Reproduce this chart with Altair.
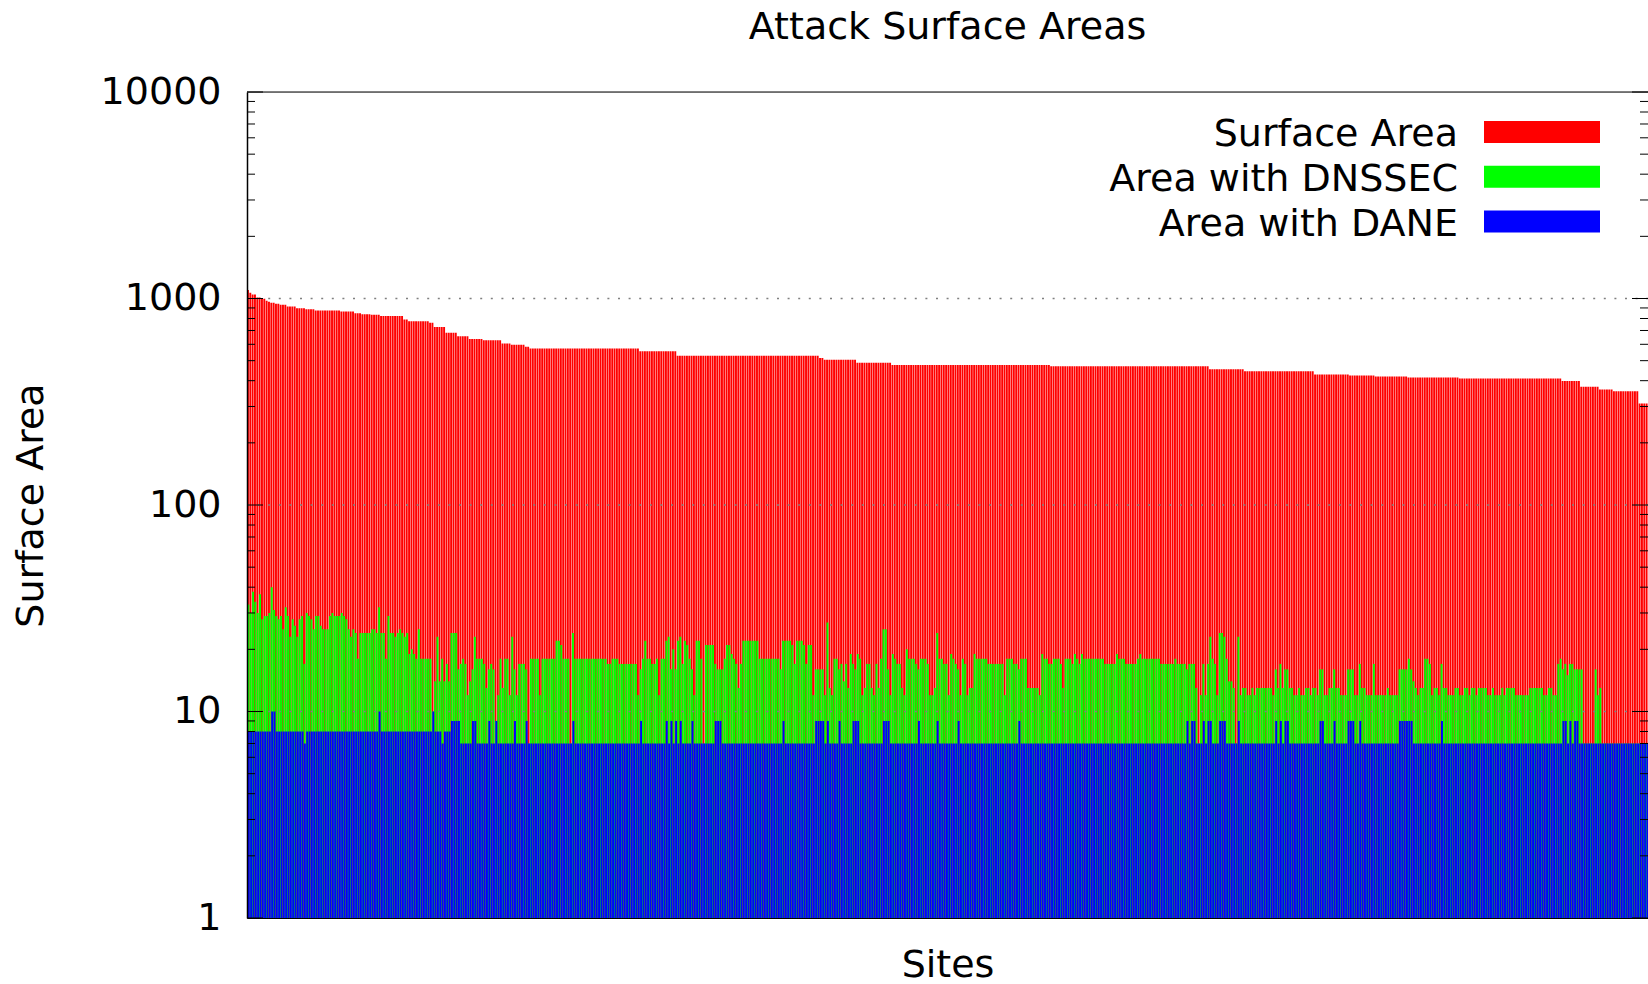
import altair as alt
import pandas as pd

# ---- data -------------------------------------------------------------
# Total surface area per site, sorted descending, as (value, run length) steps
SURFACE_RUNS = [
    (1099, 1), (1067, 1), (1047, 2), (1012, 2), (998, 2), (976, 1), (965, 1),
    (954, 2), (944, 2), (933, 3), (915, 4), (898, 4), (888, 4), (875, 11),
    (866, 6), (849, 3), (840, 4), (834, 4), (822, 10), (792, 2), (775, 9),
    (764, 2), (727, 5), (683, 5), (657, 5), (636, 6), (627, 8), (606, 4),
    (597, 6), (584, 2), (573, 47), (555, 16), (528, 61), (515, 2), (505, 14),
    (488, 15), (476, 68), (470, 68), (454, 15), (444, 30), (428, 15),
    (424, 11), (419, 14), (414, 22), (410, 44), (398, 8), (374, 8), (363, 6),
    (356, 11), (310, 4),
]

# Area still reachable with DNSSEC, one value per site
DNSSEC = [
    33, 30, 38, 34, 30, 37, 28, 29, 29, 30, 40, 31, 29, 28, 29, 25, 32, 29, 23, 28,
    26, 23, 28, 29, 17, 30, 29, 28, 25, 29, 29, 26, 25, 25, 25, 29, 30, 29, 29, 29,
    30, 29, 28, 25, 23, 25, 24, 18, 24, 24, 24, 24, 24, 25, 25, 24, 32, 24, 24, 18,
    29, 24, 24, 23, 24, 25, 24, 23, 24, 19, 20, 19, 18, 25, 18,
    18, 18, 18, 18, 10, 14, 23, 14, 18, 14, 17, 14, 24, 24, 24, 16, 17, 18, 17, 12,
    14, 16, 23, 18, 18, 18, 17, 13, 16, 17, 16, 9, 12, 18, 13, 18, 18, 12, 23, 16,
    12, 17, 17, 17, 16, 7, 18, 18, 18, 18, 12, 18, 18, 18, 18, 18, 18, 22, 22, 21,
    18, 18, 18, 7, 24, 18, 18, 18, 18, 18, 18, 18, 18, 18,
    18, 18, 18, 18, 18, 17, 17, 18, 18, 18, 17, 17, 17, 17, 17, 17, 17, 17, 12, 16,
    18, 22, 18, 18, 17, 17, 18, 12, 18, 18, 22, 23, 16, 20, 16, 22, 23, 17, 22, 21,
    18, 16, 12, 22, 22, 18, 7, 21, 21, 21, 21, 17, 16, 16, 16, 18, 21, 21, 19, 18,
    17, 13, 17, 22, 22, 22, 22, 22, 22, 22, 18, 18, 18, 18, 18,
    18, 18, 18, 18, 16, 22, 22, 22, 22, 21, 17, 22, 22, 22, 21, 17, 21, 21, 12, 16,
    16, 16, 16, 12, 27, 13, 12, 18, 18, 16, 17, 14, 17, 13, 19, 17, 16, 19, 18, 12,
    13, 17, 17, 13, 12, 17, 13, 18, 25, 25, 16, 12, 19, 18, 17, 17, 13, 12, 20, 18,
    18, 18, 17, 16, 18, 18, 18, 17, 12, 12, 13, 24, 18, 18, 17,
    17, 12, 19, 18, 17, 16, 12, 18, 17, 12, 13, 13, 19, 18, 18, 18, 18, 18, 17, 17,
    17, 17, 17, 17, 17, 12, 18, 18, 18, 17, 17, 16, 18, 18, 18, 13, 13, 13, 13, 13,
    12, 19, 18, 18, 17, 17, 18, 18, 18, 17, 13, 18, 18, 18, 17, 19, 18, 17, 19, 18,
    18, 18, 18, 18, 18, 18, 18, 18, 17, 17, 17, 17, 17, 19, 18,
    18, 18, 17, 17, 17, 17, 17, 18, 19, 18, 18, 18, 18, 18, 18, 18, 18, 17, 17, 17,
    17, 17, 17, 18, 17, 17, 17, 17, 16, 17, 17, 17, 13, 7, 12, 17, 12, 17, 23, 18,
    17, 12, 24, 24, 23, 18, 14, 14, 13, 7, 23, 12, 13, 13, 12, 12, 13, 12, 13, 13,
    13, 13, 13, 13, 13, 12, 16, 13, 17, 13, 16, 16, 13, 13, 12,
    12, 13, 12, 12, 13, 13, 12, 13, 13, 12, 16, 16, 12, 12, 13, 13, 16, 13, 13, 12,
    12, 12, 16, 16, 16, 12, 12, 17, 13, 13, 12, 12, 12, 17, 12, 12, 12, 12, 12, 13,
    12, 12, 12, 12, 16, 16, 16, 16, 18, 16, 14, 13, 12, 13, 13, 18, 18, 17, 12, 13,
    13, 12, 17, 13, 13, 12, 12, 12, 13, 13, 12, 12, 13, 13, 12,
    13, 13, 12, 13, 13, 13, 13, 12, 12, 13, 12, 12, 12, 13, 12, 13, 13, 13, 13, 12,
    12, 12, 12, 12, 12, 13, 13, 13, 13, 13, 13, 12, 12, 13, 13, 12, 12,
    17, 18, 16, 17, 15, 17, 17, 16, 16, 16, 16, 7, 7, 7, 7, 7, 16, 12, 13,
    7, 7, 7, 7, 7, 7, 7, 7, 7, 7, 7, 7, 7, 7, 7, 7, 7, 7, 7, 7,
]

# Area still reachable with DANE, as (value, run length) steps
DANE_RUNS = [
    (8, 10), (10, 2), (8, 12), (7, 1), (8, 31), (10, 1), (8, 22), (10, 1),
    (8, 3), (7, 1), (8, 3), (9, 4), (7, 5), (9, 2), (7, 5), (9, 1), (7, 2),
    (9, 1), (7, 7), (9, 1), (7, 4), (9, 1), (7, 19), (9, 1), (7, 28),
    (9, 1), (7, 10), (9, 1), (7, 1), (9, 1), (7, 1), (9, 1), (7, 1), (9, 1),
    (7, 4), (9, 1), (7, 9), (9, 3), (7, 26), (9, 1), (7, 13), (9, 4), (7, 1),
    (9, 1), (7, 4), (9, 1), (7, 5), (9, 3), (7, 10), (9, 3), (7, 12), (9, 1),
    (7, 7), (9, 1), (7, 8), (9, 1), (7, 25), (9, 1), (7, 71), (9, 1), (7, 1),
    (9, 2), (7, 3), (9, 1), (7, 1), (9, 2), (7, 3), (9, 3), (7, 5), (9, 1),
    (7, 15), (9, 1), (7, 1), (9, 1), (7, 1), (9, 2), (7, 13), (9, 2), (7, 4),
    (9, 1), (7, 5), (9, 3), (7, 2), (9, 1), (7, 16), (9, 6), (7, 12), (9, 1),
    (7, 51), (9, 2), (7, 1), (9, 1), (7, 1), (9, 2), (7, 30),
]

TITLE = "Attack Surface Areas"
SERIES_LABELS = ["Surface Area", "Area with DNSSEC", "Area with DANE"]
SERIES_COLORS = ["#ff0000", "#00ff00", "#0000ff"]
MAJOR_TICKS = [1, 10, 100, 1000, 10000]
MINOR_TICKS = [m * 10 ** k for k in range(4) for m in range(2, 10)]
GRID_LINES = [10, 100, 1000]


def expand(runs):
    values = []
    for value, count in runs:
        values.extend([value] * count)
    return values


surface = expand(SURFACE_RUNS)
dane = expand(DANE_RUNS)
n_sites = len(surface)

sites = pd.DataFrame({
    "site": list(range(n_sites)),
    "surface": surface,
    "dnssec": DNSSEC[:n_sites],
    "dane": dane[:n_sites],
})

# ---- layout -----------------------------------------------------------
W, H = 1401, 826
FONT = "DejaVu Sans"
FS = 38
GAP = 0.18  # fraction of a slot left open; each series is shifted by one gap

xs = alt.Scale(domain=[0, n_sites], nice=False, zero=False)
ys = alt.Scale(type="log", domain=[1, 10000], nice=False)

X_AXIS = alt.Axis(
    labels=False, ticks=False, grid=False, domain=True,
    domainColor="black", domainWidth=1, zindex=2,
    title="Sites", titleFont=FONT, titleFontSize=FS, titleFontWeight="normal",
    titleColor="black", titleBaseline="alphabetic", titleY=58,
)
Y_AXIS = alt.Axis(
    values=MAJOR_TICKS, format="d", ticks=False, grid=False, domain=True,
    domainColor="black", domainWidth=1.5, zindex=2,
    labelFont=FONT, labelFontSize=FS, labelColor="black", labelPadding=26,
    labelOverlap=False, labelBaseline="middle",
    title="Surface Area", titleFont=FONT, titleFontSize=FS,
    titleFontWeight="normal", titleColor="black", titleAngle=270,
    titleAlign="center", titleBaseline="alphabetic", titleX=-205, titleY=H / 2,
)

base = alt.Chart(sites).transform_calculate(
    floor="1",
    r1="datum.site",
    r2=f"datum.site + {1 - GAP}",
    g1=f"datum.site + {GAP}",
    g2="datum.site + 1",
    b1=f"datum.site + {2 * GAP}",
    b2=f"datum.site + {1 + GAP}",
)


def bars(field, start, end, color):
    return base.mark_rect(color=color).encode(
        x=alt.X(f"{start}:Q", scale=xs, axis=X_AXIS),
        x2=f"{end}:Q",
        y=alt.Y(f"{field}:Q", scale=ys, axis=Y_AXIS),
        y2="floor:Q",
    )


red = bars("surface", "r1", "r2", SERIES_COLORS[0])
green = bars("dnssec", "g1", "g2", SERIES_COLORS[1])
blue = bars("dane", "b1", "b2", SERIES_COLORS[2])

grid = alt.Chart(pd.DataFrame({"v": GRID_LINES})).mark_rule(
    color="#808080", strokeWidth=1.5, strokeDash=[2, 8.6]
).encode(y=alt.Y("v:Q", scale=ys, axis=Y_AXIS), x=alt.value(0), x2=alt.value(W))

top_border = alt.Chart(pd.DataFrame({"v": [10000]})).mark_rule(
    color="black", strokeWidth=1
).encode(y=alt.Y("v:Q", scale=ys, axis=Y_AXIS), x=alt.value(0), x2=alt.value(W))

major_df = pd.DataFrame({"v": MAJOR_TICKS})
minor_df = pd.DataFrame({"v": MINOR_TICKS})


def tick_layer(df, x0, x1):
    return alt.Chart(df).mark_rule(color="black", strokeWidth=1).encode(
        y=alt.Y("v:Q", scale=ys, axis=Y_AXIS), x=alt.value(x0), x2=alt.value(x1)
    )


ticks = [
    tick_layer(major_df, 0, 16), tick_layer(minor_df, 0, 8),
    tick_layer(major_df, W - 16, W), tick_layer(minor_df, W - 8, W),
]

title = alt.Chart(pd.DataFrame({"t": [TITLE]})).mark_text(
    align="center", baseline="alphabetic", font=FONT, fontSize=FS, color="black"
).encode(text="t:N", x=alt.value(W / 2), y=alt.value(-53))

# key: labels right-aligned, coloured swatches to their right
legend_layers = []
for i, (label, color) in enumerate(zip(SERIES_LABELS, SERIES_COLORS)):
    row_mid = 40 + 44.8 * i
    one = pd.DataFrame({"label": [label]})
    legend_layers.append(
        alt.Chart(one).mark_text(
            align="right", baseline="alphabetic", font=FONT, fontSize=FS, color="black"
        ).encode(text="label:N", x=alt.value(1211), y=alt.value(row_mid + 14))
    )
    legend_layers.append(
        alt.Chart(one).mark_rect(color=color).encode(
            x=alt.value(1237), x2=alt.value(1353),
            y=alt.value(row_mid - 11), y2=alt.value(row_mid + 11),
        )
    )

chart = alt.layer(
    red, green, blue, grid, top_border, *ticks, title, *legend_layers
).properties(
    width=W,
    height=H,
    autosize=alt.AutoSizeParams(type="none"),
    padding={"left": 247, "top": 92, "right": 0, "bottom": 66},
).configure_view(stroke=None).configure(background="white")

chart.save("out.html", embed_options={"renderer": "svg", "actions": False})
